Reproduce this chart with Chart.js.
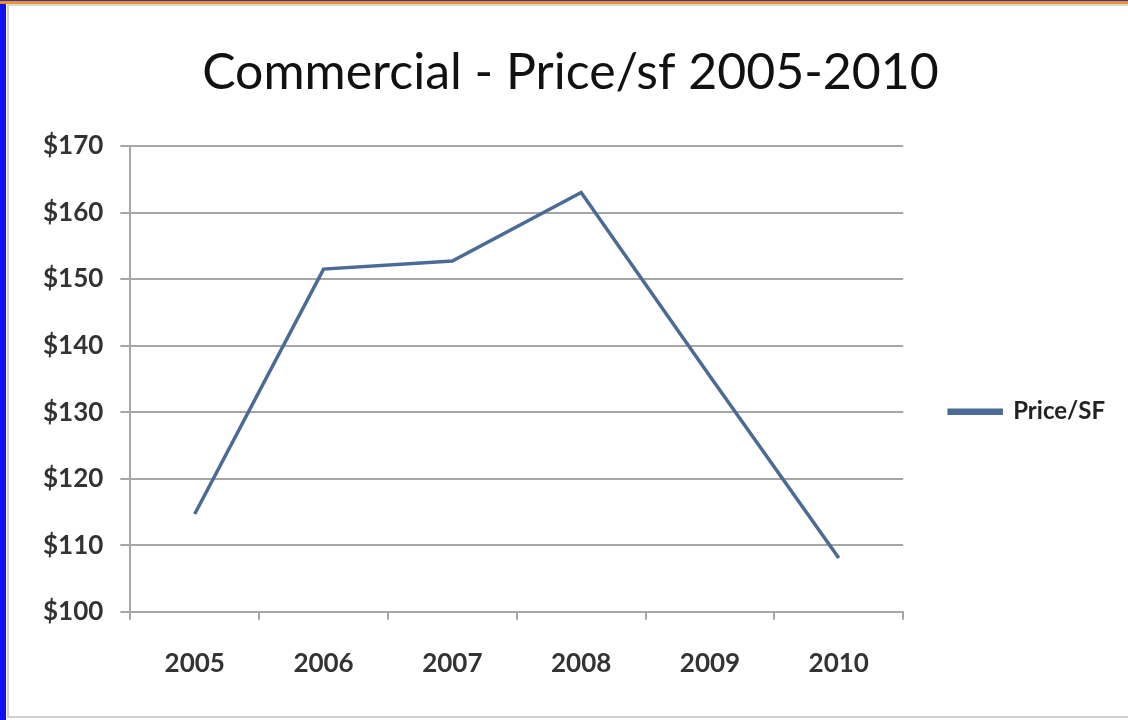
<!DOCTYPE html>
<html>
<head>
<meta charset="utf-8">
<script src="https://cdn.jsdelivr.net/npm/chart.js@4/dist/chart.umd.min.js"></script>
<style>
  html, body { margin: 0; padding: 0; background: #fff; }
  #wrap { position: absolute; left: 0; top: 0; width: 1128px; height: 720px; }
  /* marco de la diapositiva */
  .frame { position: absolute; pointer-events: none; }
  #bordeIzq { left: 0; top: 0; width: 6px; height: 720px; background: #1010f0; }
  #bordeSup { left: 0; top: 0; width: 1128px; height: 4px; background: #e8961e; border-top: 1px solid #3030d0; box-sizing: border-box; }
  #panel { left: 7px; top: 4px; width: 1121px; height: 714px; border-left: 2px solid #d0d0d0; border-top: 2px solid #d8d8d8; border-bottom: 2px solid #d0d0d0; box-sizing: border-box; }
</style>
</head>
<body>
<div id="wrap"><canvas id="grafico" width="1128" height="720"></canvas></div>
<div class="frame" id="panel"></div>
<div class="frame" id="bordeIzq"></div>
<div class="frame" id="bordeSup"></div>
<script>
// Datos del gráfico
const anios = ["2005", "2006", "2007", "2008", "2009", "2010"];
const precioPorSF = [114.7, 151.5, 152.7, 163.0, 135.4, 108.1];
const ticksY = [100, 110, 120, 130, 140, 150, 160, 170];

const azul = "#4a6b96";
const gris = "#a6a6a6";
const fuente = "Lato, 'Open Sans', sans-serif";

const ctx = document.getElementById("grafico").getContext("2d");

new Chart(ctx, {
  type: "line",
  data: {
    labels: anios,
    datasets: [{
      label: "Price/SF",
      data: precioPorSF,
      borderColor: azul,
      backgroundColor: azul,
      borderWidth: 3.5,
      pointRadius: 0,
      tension: 0,
      fill: false
    }]
  },
  options: {
    responsive: false,
    animation: false,
    layout: {
      padding: { left: 26, top: 0, right: 13, bottom: 13 }
    },
    plugins: {
      title: {
        display: true,
        text: "Commercial - Price/sf 2005-2010",
        color: "#111",
        font: { family: fuente, size: 50, weight: "normal", lineHeight: 1.2 },
        padding: { top: 43, bottom: 43 }
      },
      legend: {
        position: "right",
        // titulo vacío solo para bajar la leyenda
        title: { display: true, text: " ", font: { size: 2 }, padding: { top: 114, bottom: 0 } },
        labels: {
          boxWidth: 52,
          boxHeight: 3,
          padding: 46,
          color: "#222",
          font: { family: fuente, size: 24, weight: "bold" }
        }
      },
      tooltip: { enabled: false }
    },
    scales: {
      x: {
        offset: true,
        grid: {
          offset: true,
          drawOnChartArea: false,
          drawTicks: true,
          tickLength: 8,
          color: gris,
          lineWidth: 2
        },
        border: { display: true, color: gris, width: 2 },
        ticks: {
          color: "#333",
          padding: 28,
          font: { family: fuente, size: 26, weight: "bold" }
        }
      },
      y: {
        min: ticksY[0],
        max: ticksY[ticksY.length - 1],
        afterBuildTicks: (eje) => { eje.ticks = ticksY.map((v) => ({ value: v })); },
        grid: {
          color: gris,
          lineWidth: 2,
          tickLength: 10
        },
        border: { display: true, color: gris, width: 2 },
        ticks: {
          color: "#333",
          padding: 17,
          font: { family: fuente, size: 26, weight: "bold" },
          callback: (v) => "$" + v
        }
      }
    }
  }
});
</script>
</body>
</html>
